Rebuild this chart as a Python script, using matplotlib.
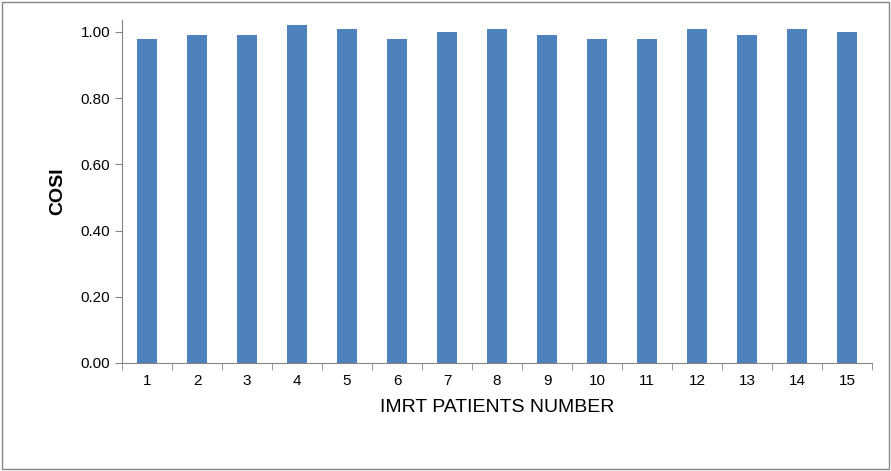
import matplotlib
matplotlib.use('Agg')
import matplotlib.pyplot as plt
from matplotlib.patches import Rectangle

patients = [str(i) for i in range(1, 16)]
cosi = [0.98, 0.99, 0.99, 1.02, 1.01, 0.98, 1.00, 1.01, 0.99, 0.98, 0.98, 1.01, 0.99, 1.01, 1.00]

plt.rcParams['font.family'] = ['Liberation Sans', 'DejaVu Sans']
fig = plt.figure(figsize=(8.91, 4.71), dpi=100)
ax = fig.add_axes([122/891, 1 - 363/471, 750/891, 343/471])
ax.bar(range(15), cosi, width=0.4, color='#4F81BD')
ax.set_xlim(-0.5, 14.5)
ax.set_ylim(0, 1.036)
ax.set_yticks([0, 0.2, 0.4, 0.6, 0.8, 1.0])
ax.set_yticklabels(['%.2f' % v for v in [0, 0.2, 0.4, 0.6, 0.8, 1.0]], fontsize=11)
ax.set_xticks(range(15))
ax.set_xticklabels(patients, fontsize=11)
ax.set_xticks([i - 0.5 for i in range(16)], minor=True)
ax.tick_params(axis='x', which='major', length=0, pad=8)
ax.tick_params(axis='x', which='minor', length=5, color='#868686')
ax.tick_params(axis='y', length=5, color='#868686')
for s in ['top', 'right']:
    ax.spines[s].set_visible(False)
for s in ['left', 'bottom']:
    ax.spines[s].set_color('#868686')
ax.set_xlabel('IMRT PATIENTS NUMBER', fontsize=14, labelpad=8)
ax.set_ylabel('COSI', fontsize=14, fontweight='bold', labelpad=10)
fig.patches.append(Rectangle((0.002, 0.004), 0.996, 0.992, transform=fig.transFigure,
                             fill=False, edgecolor='#868686', linewidth=1))
fig.savefig('out.png', dpi=100)
